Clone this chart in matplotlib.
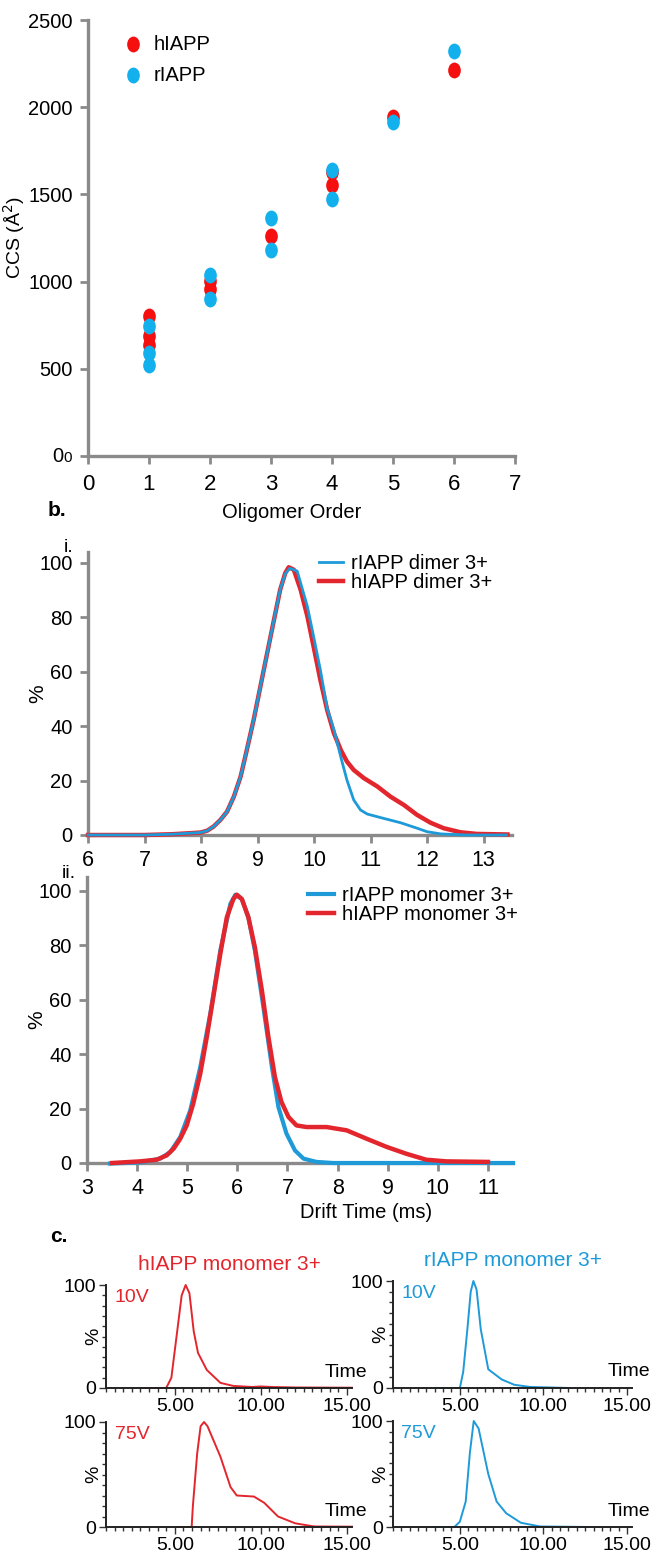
import matplotlib
matplotlib.use('Agg')
import matplotlib.pyplot as plt
from matplotlib.markers import MarkerStyle
from matplotlib.transforms import Affine2D
from matplotlib.ticker import MultipleLocator

plt.rcParams['font.family'] = ['Liberation Sans', 'DejaVu Sans']

# ── Panel a: CCS vs oligomer order ──────────────────────────────────────────
H_ORDER = [1, 1, 1, 2, 2, 3, 4, 4, 5, 6]
H_CCS = [805, 690, 638, 1002, 958, 1260, 1626, 1553, 1946, 2214]
R_ORDER = [1, 1, 1, 2, 2, 3, 3, 4, 4, 5, 6]
R_CCS = [747, 590, 523, 1040, 900, 1362, 1184, 1640, 1475, 1918, 2322]

# ── Panel b i: dimer 3+ ATDs ────────────────────────────────────────────────
DIM_H_T = [6.0, 7.0, 7.5, 7.99, 8.11, 8.22, 8.34, 8.46, 8.58, 8.70, 8.81, 8.93, 9.05,
           9.17, 9.29, 9.40, 9.49, 9.55, 9.64, 9.76, 9.88, 9.99, 10.11, 10.23, 10.35,
           10.47, 10.58, 10.70, 10.88, 11.12, 11.35, 11.59, 11.82, 12.06, 12.29, 12.59,
           12.88, 13.42]
DIM_H_I = [0.0, 0.0, 0.3, 0.9, 1.6, 3.1, 5.5, 8.6, 14.1, 21.5, 31.3, 42.3, 54.6,
           66.9, 79.1, 90.2, 96.3, 98.4, 97.5, 90.2, 80.4, 69.3, 57, 46, 37.4,
           31.3, 27, 23.9, 20.9, 17.8, 14.1, 11, 7.4, 4.5, 2.5, 1.0,
           0.4, 0.2]
DIM_R_T = [6.0, 7.0, 7.5, 7.99, 8.11, 8.22, 8.34, 8.46, 8.58, 8.70, 8.81, 8.93, 9.05,
           9.17, 9.29, 9.40, 9.49, 9.57, 9.70, 9.88, 9.99, 10.11, 10.23, 10.35, 10.47,
           10.58, 10.70, 10.82, 10.94, 11.23, 11.53, 11.82, 12.0, 12.24, 12.7, 13.4]
DIM_R_I = [0.0, 0.0, 0.3, 0.9, 1.6, 3.1, 5.5, 8.6, 14.1, 21.5, 31.3, 42.3, 54.6,
           66.9, 79.1, 90.2, 96.0, 98.0, 97, 84, 73, 60.7, 46.6, 38.7, 28.8,
           20.2, 12.9, 9.2, 7.7, 6.1, 4.5, 2.5, 1.2, 0.4, 0.0, 0.0]

# ── Panel b ii: monomer 3+ ATDs ─────────────────────────────────────────────
MON_H_T = [3.5, 4.06, 4.39, 4.59, 4.73, 4.86, 4.99, 5.12, 5.26, 5.39, 5.52, 5.66,
           5.79, 5.92, 5.99, 6.09, 6.22, 6.35, 6.49, 6.62, 6.75, 6.88, 7.02, 7.18,
           7.38, 7.78, 8.18, 8.58, 8.98, 9.37, 9.77, 10.17, 11.0]
MON_H_I = [0.0, 0.6, 1.2, 2.8, 5.3, 8.9, 13.8, 21.8, 32.8, 46.2, 60.9, 76.8,
           90.2, 96.9, 98.5, 96.9, 90.2, 79.2, 63.3, 46.2, 31.5, 22.4, 16.9, 13.8,
           13.2, 13.2, 12.0, 8.9, 5.9, 3.4, 1.2, 0.6, 0.4]
MON_R_T = [3.46, 4.06, 4.46, 4.66, 4.86, 5.06, 5.26, 5.46, 5.66, 5.86, 5.96, 6.09,
           6.22, 6.35, 6.52, 6.69, 6.82, 6.98, 7.15, 7.32, 7.58, 7.91, 11.5]
MON_R_I = [-0.2, 0.2, 1.6, 4.0, 9.5, 19.3, 35.2, 54.8, 78, 95.1, 98.5, 96.9,
           90.2, 78, 57.2, 35.2, 20.5, 10.8, 4.6, 1.6, 0.4, 0.0, 0.0]

# ── Panel c: collision voltage traces ───────────────────────────────────────
H10_T = [3.1, 4.5, 4.8, 5.1, 5.4, 5.63, 5.85, 6.1, 6.35, 6.86, 7.65, 8.4, 9.5, 10.0, 10.6, 12.0, 15.3]
H10_I = [0, 0, 10, 50, 90, 100, 92, 55, 34, 17.5, 5, 2, 1, 1.5, 1, 0.5, 0.3]
H75_T = [5.1, 5.98, 6.05, 6.3, 6.5, 6.7, 6.9, 7.65, 8.24, 8.6, 9.6, 10.2, 11.0, 12.0, 13.1, 15.3]
H75_I = [0, 0, 20, 70, 96, 100, 96, 67, 38, 30, 29, 23, 10, 3.5, 0.5, 0.3]
R10_T = [3.6, 5.0, 5.2, 5.45, 5.65, 5.81, 6.0, 6.25, 6.7, 7.5, 8.26, 9.2, 11.55]
R10_I = [0, 0, 15, 55, 90, 100, 92, 55, 17.5, 8, 3, 1, 0]
R75_T = [3.4, 4.67, 5.0, 5.35, 5.6, 5.83, 6.12, 6.7, 7.2, 7.77, 8.65, 9.8, 12.7]
R75_I = [0, 0, 5, 24, 70, 100, 93, 50, 24, 13, 4, 0.5, 0]

RED = '#E3262D'
BLUE = '#1E9AD8'
DOT_RED = '#F50F0F'
DOT_BLUE = '#12B0EC'
GREY = '#8A8A8A'

W, H = 652, 1551
fig = plt.figure(figsize=(W / 100, H / 100), dpi=100)


def px_axes(x0, y0, x1, y1):
    # pixel box (left, top, right, bottom) -> figure axes
    return fig.add_axes([x0 / W, 1 - y1 / H, (x1 - x0) / W, (y1 - y0) / H])


def grey_axes(ax):
    for s in ['top', 'right']:
        ax.spines[s].set_visible(False)
    for s in ['left', 'bottom']:
        ax.spines[s].set_color(GREY)
        ax.spines[s].set_linewidth(2.4)
    ax.tick_params(direction='out', color=GREY, width=2.0, length=6,
                   labelsize=14.5, pad=5)


# ════════════════════════════════════════════════════════════════════════════
# a. CCS vs oligomer order
# ════════════════════════════════════════════════════════════════════════════
ax = px_axes(88, 20, 515, 456)
grey_axes(ax)
oval = MarkerStyle('o', transform=Affine2D().scale(0.8, 1.0))
ax.scatter(H_ORDER, H_CCS, s=130, marker=oval, color=DOT_RED, lw=0, label='hIAPP', zorder=3)
ax.scatter(R_ORDER, R_CCS, s=130, marker=oval, color=DOT_BLUE, lw=0, label='rIAPP', zorder=4)
ax.set_xlim(0, 7)
ax.set_ylim(0, 2500)
ax.set_xticks(range(0, 8))
ax.set_yticks([0, 500, 1000, 1500, 2000, 2500])
ax.set_yticklabels(['', '500', '1000', '1500', '2000', '2500'])
ax.tick_params(axis='x', labelsize=16, pad=7)
ax.annotate('0', xy=(0, 0), xycoords=('axes fraction', 'data'), xytext=(-25, 0),
            textcoords='offset pixels', ha='right', va='center', fontsize=14.5)
ax.annotate('0', xy=(0, 0), xycoords=('axes fraction', 'data'), xytext=(-16, -2),
            textcoords='offset pixels', ha='right', va='center', fontsize=11)
ax.set_xlabel('Oligomer Order', fontsize=14.5, labelpad=0)
ax.xaxis.set_label_coords((292 - 88) / 427, -0.108)
ax.set_ylabel('CCS (Å$^2$)', fontsize=14)
ax.yaxis.set_label_coords(-0.143, 0.5)
ax.legend(loc='upper left', bbox_to_anchor=(0.04, 0.985), frameon=False,
          fontsize=14.5, handletextpad=0.0, labelspacing=0.6, borderaxespad=0,
          scatterpoints=1)
fig.text(48 / W, 1 - 510 / H, 'b.', fontsize=15, fontweight='bold', va='center')


# ════════════════════════════════════════════════════════════════════════════
# b. arrival time distributions
# ════════════════════════════════════════════════════════════════════════════
def atd_axes(box, xlim, ylim, xticks):
    a = px_axes(*box)
    grey_axes(a)
    a.set_xlim(*xlim)
    a.set_ylim(*ylim)
    a.set_xticks(xticks)
    a.set_yticks([0, 20, 40, 60, 80, 100])
    a.tick_params(axis='x', labelsize=15.5)
    a.set_ylabel('%', fontsize=15)
    a.yaxis.set_label_coords(-0.095, 0.5)
    return a


ax = atd_axes((88, 552, 512, 835), (6, 13.5), (0, 104), range(6, 14))
ax.plot(DIM_R_T, DIM_R_I, color=BLUE, lw=2.0, label='rIAPP dimer 3+', clip_on=False, zorder=4)
ax.plot(DIM_H_T, DIM_H_I, color=RED, lw=3.2, label='hIAPP dimer 3+', clip_on=False, zorder=3)
ax.legend(loc='upper right', bbox_to_anchor=(0.983, 1.035), frameon=False, fontsize=14.5,
          handlelength=1.2, handletextpad=0.4, labelspacing=0.0, borderaxespad=0.2)
fig.text(64 / W, 1 - 548 / H, 'i.', fontsize=14, va='center')

ax = atd_axes((87, 877, 513, 1163), (3, 11.5), (0, 105), range(3, 12))
ax.plot(MON_R_T, MON_R_I, color=BLUE, lw=3.0, label='rIAPP monomer 3+', clip_on=False, zorder=4)
ax.plot(MON_H_T, MON_H_I, color=RED, lw=3.2, label='hIAPP monomer 3+', clip_on=False, zorder=5)
ax.legend(loc='upper right', bbox_to_anchor=(1.04, 1.01), frameon=False, fontsize=14.5,
          handlelength=1.3, handletextpad=0.4, labelspacing=0.0, borderaxespad=0.2)
ax.set_xlabel('Drift Time (ms)', fontsize=14.5, labelpad=0)
ax.xaxis.set_label_coords((366 - 87) / 426, -0.14)
fig.text(62 / W, 1 - 873 / H, 'ii.', fontsize=14, va='center')
fig.text(50 / W, 1 - 1237 / H, 'c.', fontsize=15, fontweight='bold', va='center')


# ════════════════════════════════════════════════════════════════════════════
# c. collision voltage traces
# ════════════════════════════════════════════════════════════════════════════
def trace_axes(box, t, i, color, volt, title=None, time_x=0.89):
    a = px_axes(*box)
    for s in ['top', 'right']:
        a.spines[s].set_visible(False)
    for s in ['left', 'bottom']:
        a.spines[s].set_color('#222222')
        a.spines[s].set_linewidth(1.4)
    a.plot(t, i, color=color, lw=1.4, clip_on=False)
    a.set_xlim(1.0, 15.3)
    a.set_ylim(0, 100)
    a.set_xticks([5, 10, 15])
    a.set_xticklabels(['5.00', '10.00', '15.00'])
    a.xaxis.set_minor_locator(MultipleLocator(0.5))
    a.set_yticks([0, 100])
    a.yaxis.set_minor_locator(MultipleLocator(10))
    a.tick_params(which='both', direction='out', color='#333333', width=1.0,
                  labelsize=14, pad=2)
    a.tick_params(which='major', length=5)
    a.tick_params(which='minor', length=3)
    a.set_ylabel('%', fontsize=14)
    a.yaxis.set_label_coords(-0.015, 0.5)
    a.text(0.035, 0.88, volt, transform=a.transAxes, color=color, fontsize=14, va='center')
    a.text(time_x, 0.15, 'Time', transform=a.transAxes, fontsize=14, va='center',
           clip_on=False)
    if title:
        a.set_title(title, color=color, fontsize=15, pad=11)
    return a


trace_axes((106, 1285, 352, 1388), H10_T, H10_I, RED, '10V', 'hIAPP monomer 3+')
trace_axes((106, 1422, 352, 1527), H75_T, H75_I, RED, '75V')
trace_axes((393, 1281, 632, 1388), R10_T, R10_I, BLUE, '10V', 'rIAPP monomer 3+', 0.9)
trace_axes((393, 1421, 632, 1527), R75_T, R75_I, BLUE, '75V', time_x=0.9)

fig.savefig('out.png', dpi=100, facecolor='white')
